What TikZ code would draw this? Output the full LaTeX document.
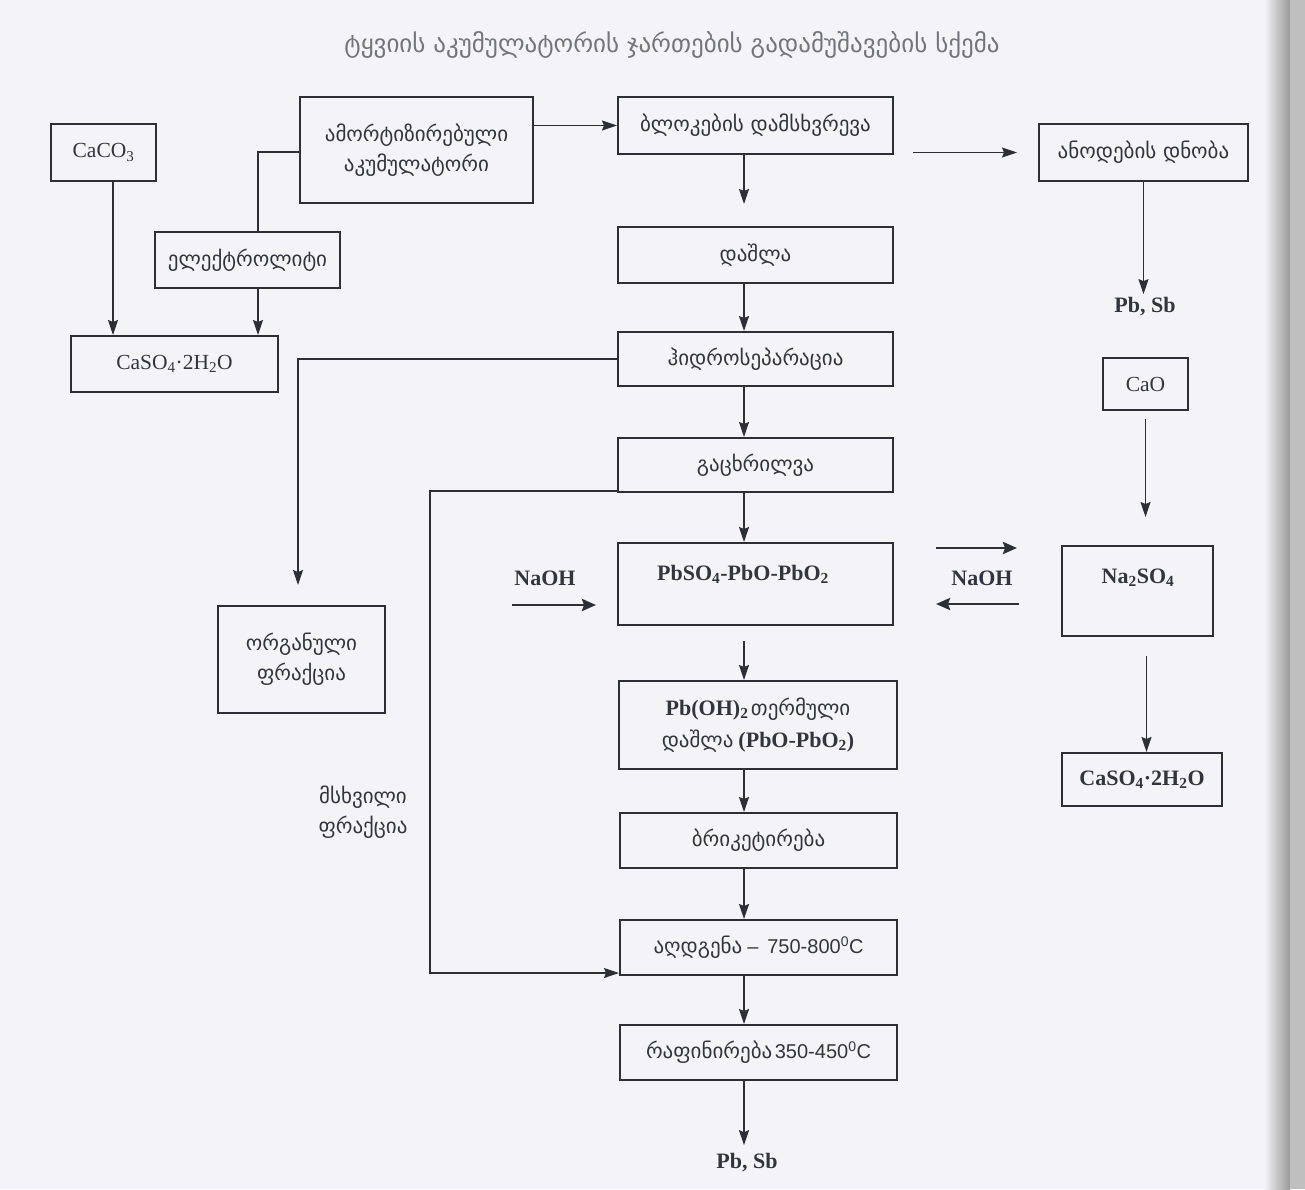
\documentclass[tikz,border=0pt]{standalone}
\usepackage{fontspec}
\setmainfont{Liberation Serif}
\newfontfamily\geo{DejaVu Sans}
\newfontfamily\lsans{Liberation Sans}
\usetikzlibrary{arrows.meta}
\definecolor{ink}{HTML}{2E2E36}
\definecolor{paper}{HTML}{F4F4F8}
\definecolor{txt}{HTML}{34343E}
\definecolor{ttl}{HTML}{74747C}
\begin{document}
\begin{tikzpicture}[x=1pt,y=-1pt,
  box/.style={draw=ink,line width=2pt,inner sep=2pt},
  geot/.style={font=\geo\fontsize{21}{30}\selectfont,text=txt},
  latt/.style={font=\fontsize{21.5}{24}\selectfont,text=txt},
  latb/.style={font=\fontsize{22}{24}\selectfont\bfseries,text=txt},
  arr/.style={draw=ink,line width=1.5pt,-{Stealth[length=15pt,width=10pt,inset=2pt]}},
  arrb/.style={draw=ink,line width=2.8pt,-{Stealth[length=14pt,width=12pt,inset=2pt]}},
  ln/.style={draw=ink,line width=1.5pt}]
\fill[paper] (0,0) rectangle (1305,1189);
\useasboundingbox (0,0) rectangle (1305,1189);
\shade[left color=paper,right color=black!40] (1264,0) rectangle (1290,1189);
\fill[black!25] (1290,0) rectangle (1305,1189);

\coordinate (cx) at (744,0);
\coordinate (mx) at (430,0);

\node[font=\geo\fontsize{25}{30}\selectfont,text=ttl] (title) at (672,45) {ტყვიის აკუმულატორის ჯართების გადამუშავების სქემა};

\node[box,latt,minimum width=105,minimum height=57] (caco3) at (103.5,152.5) {CaCO\textsubscript{3}};
\node[box,geot,align=center,minimum width=233,minimum height=106] (amort) at (416.5,150) {ამორტიზირებული\\აკუმულატორი};
\node[box,geot,minimum width=185,minimum height=56] (elec) at (247.5,260) {ელექტროლიტი};
\node[box,latt,minimum width=207,minimum height=56] (caso4L) at (174.5,364) {CaSO\textsubscript{4}·2H\textsubscript{2}O};

\node[box,geot,minimum width=275,minimum height=57] (blok) at (755.5,125.5) {ბლოკების დამსხვრევა};
\node[box,geot,minimum width=209,minimum height=57] (anod) at (1143.5,152.5) {ანოდების დნობა};
\node[latb] (pbsb1) at (1145,307) {Pb, Sb};
\node[box,geot,minimum width=275,minimum height=56] (dashla) at (755.5,255) {დაშლა};
\node[box,geot,minimum width=275,minimum height=54] (hidro) at (755.5,359) {ჰიდროსეპარაცია};
\node[box,latt,minimum width=85,minimum height=52] (cao) at (1145.5,384) {CaO};
\node[box,geot,minimum width=275,minimum height=54] (gac) at (755.5,465) {გაცხრილვა};

\node[box,minimum width=275,minimum height=82] (pbso4) at (755.5,584) {};
\node[latb] (pbso4t) at (743,574) {PbSO\textsubscript{4}-PbO-PbO\textsubscript{2}};
\node[box,minimum width=151,minimum height=90] (na2so4) at (1137.5,591) {};
\node[latb] (na2so4t) at (1138,578) {Na\textsubscript{2}SO\textsubscript{4}};
\node[latb] (naoh1) at (545,578) {NaOH};
\node[latb] (naoh2) at (982,578) {NaOH};

\node[box,geot,align=center,minimum width=167,minimum height=107] (org) at (301.5,659.5) {ორგანული\\ფრაქცია};
\node[box,align=center,minimum width=278,minimum height=88,text=txt] (pboh) at (758,725)
  {{\fontsize{22}{24}\selectfont\bfseries Pb(OH)\textsubscript{2}}\ {\geo\fontsize{21}{24}\selectfont თერმული}\\[8pt]
   {\geo\fontsize{21}{24}\selectfont დაშლა}\ \ {\fontsize{22}{24}\selectfont\bfseries (PbO-PbO\textsubscript{2})}};
\node[geot,align=center] (mskh) at (363,812) {მსხვილი\\ფრაქცია};
\node[box,geot,minimum width=277,minimum height=55] (brik) at (758.5,840.5) {ბრიკეტირება};
\node[box,minimum width=277,minimum height=55,text=txt] (aghd) at (758.5,947.5)
  {{\geo\fontsize{21}{24}\selectfont აღდგენა}\ \ {\lsans\fontsize{20}{22}\selectfont – \,750-800\textsuperscript{0}C}};
\node[box,minimum width=277,minimum height=55,text=txt] (raf) at (758.5,1052.5)
  {{\geo\fontsize{21}{24}\selectfont რაფინირება}\ {\lsans\fontsize{20}{22}\selectfont 350-450\textsuperscript{0}C}};
\node[latb] (pbsb2) at (747,1163) {Pb, Sb};
\node[box,latb,minimum width=160,minimum height=53] (caso4R) at (1142,779.5) {CaSO\textsubscript{4}·2H\textsubscript{2}O};

% left group
\draw[arr] ([xshift=9.5]caco3.south) -- ([xshift=9.5]caco3.south |- caso4L.north);
\draw[ln] ([yshift=-2]amort.west) -| ([xshift=10.5]elec.north);
\draw[arr] ([xshift=10.5]elec.south) -- ([xshift=10.5]elec.south |- caso4L.north);
\draw[arr] (amort.east |- blok.west) -- (blok.west);

% top right
\draw[arr] ([xshift=19]blok.east |- anod.west) -- ([xshift=-21]anod.west);
\draw[arr] (anod.south) -- (anod.south |- pbsb1.north);

% main column
\draw[arr,shorten >=22pt] (blok.south -| cx) -- (dashla.north -| cx);
\draw[arr] (dashla.south -| cx) -- (hidro.north -| cx);
\draw[arr] (hidro.south -| cx) -- (gac.north -| cx);
\draw[arr] (gac.south -| cx) -- (pbso4.north -| cx);
\draw[arr,shorten <=15pt] (pbso4.south -| cx) -- (pboh.north -| cx);
\draw[arr] (pboh.south -| cx) -- (brik.north -| cx);
\draw[arr] (brik.south -| cx) -- (aghd.north -| cx);
\draw[arr] (aghd.south -| cx) -- (raf.north -| cx);
\draw[arr] (raf.south -| cx) -- ([yshift=5]pbsb2.north -| cx);

% side branches
\draw[arr,shorten >=20pt] (hidro.west) -| ([xshift=-3.5]org.north);
\draw[arr] ([yshift=2]gac.south west) -- ([yshift=2]gac.south west -| mx) -- ([yshift=3]aghd.south west -| mx) -- ([yshift=3]aghd.south west);

% NaOH arrows
\draw[arrb] ([xshift=-105,yshift=-21]pbso4.west) -- ([xshift=-21,yshift=-21]pbso4.west);
\draw[arrb] ([xshift=42,yshift=36]pbso4.east) -- ([xshift=-44,yshift=43]na2so4.west);
\draw[arrb] ([xshift=-42,yshift=-13]na2so4.west) -- ([xshift=42,yshift=-20]pbso4.east);

% right column
\draw[arr,shorten <=8pt,shorten >=28pt] (cao.south) -- (cao.south |- na2so4.north);
\draw[arr,shorten <=19pt] ([xshift=9]na2so4.south) -- ([xshift=9]na2so4.south |- caso4R.north);
\end{tikzpicture}
\end{document}
